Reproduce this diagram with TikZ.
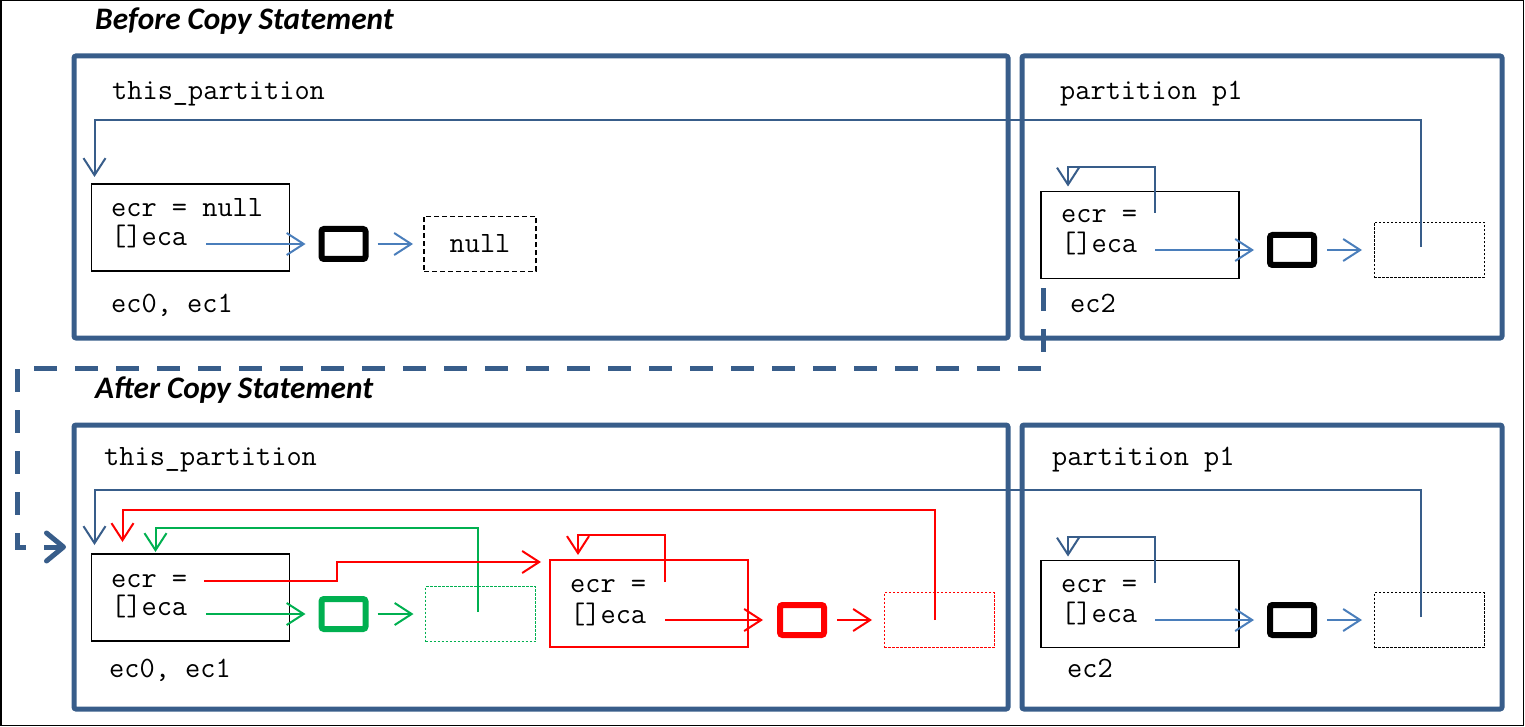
\documentclass[tikz,border=0pt]{standalone}
\usepackage{fontspec}
\newfontfamily\titlefont{Carlito}
\usetikzlibrary{arrows.meta,positioning}
\definecolor{frameblue}{RGB}{56,93,138}
\definecolor{ptrblue}{RGB}{74,126,187}
\definecolor{ecgreen}{RGB}{0,176,80}
\definecolor{ecred}{RGB}{255,0,0}
\tikzset{
  part/.style={draw=frameblue,line width=5pt,rounded corners=2pt,inner sep=0pt,outer sep=0pt},
  obj/.style={draw,line width=1.2pt,minimum width=198pt,minimum height=87pt,inner sep=0pt,outer sep=0pt},
  ref/.style={draw,line width=6pt,rounded corners=2.5pt,minimum width=44pt,minimum height=30pt,inner sep=0pt,outer sep=0pt},
  arr/.style={draw,line width=1pt,dash pattern=on 2.5pt off 1.5pt,minimum width=110pt,minimum height=55pt,inner sep=0pt,outer sep=0pt},
  nul/.style={arr,line width=1.8pt,dash pattern=on 5pt off 3pt,minimum width=112pt,font=\fontsize{29.5}{34}\ttfamily},
  code/.style={font=\fontsize{29.5}{34}\ttfamily,inner sep=0pt,anchor=base west},
  ttl/.style={font=\fontsize{31.3}{37}\titlefont\bfseries\itshape,inner sep=0pt,anchor=base west},
  ptr/.style={draw=#1,line width=2pt,-{Straight Barb[length=17pt,width=22pt]}},
  ptr/.default=ptrblue,
  copyline/.style={draw=frameblue,line width=5pt,dash pattern=on 23pt off 18pt,
    -{Straight Barb[round,length=17pt,width=28pt]}}
}
\begin{document}
\begin{tikzpicture}[x=1pt,y=-1pt]
  \useasboundingbox (0,0) rectangle (1525,727);
  \draw[line width=1.5pt] (0.75,0.75) rectangle (1523.5,725.5);
  \node[ttl] (tA) at (95,30) {Before Copy Statement};
  \node[ttl] (tB) at (95,398) {After Copy Statement};
  \node[part,minimum width=934pt,minimum height=282pt] (fTL) at (541,197) {};
  \node[part,minimum width=480pt,minimum height=282pt] (fTR) at (1262,197) {};
  \node[part,minimum width=934pt,minimum height=284pt] (fBL) at (541,567) {};
  \node[part,minimum width=480pt,minimum height=284pt] (fBR) at (1262,567) {};
  \node[code] (nTL) at (112,100) {this\_partition};
  \node[obj] (oTL) at (190.5,227.5) {};
  \node[code] (ecrTL) at (111,217) {ecr = null};
  \node[code] (ecaTL) at (111,246) {[]eca};
  \node[code] (ecTL) at (111,312) {ec0, ec1};
  \node[ref] (rTL) at (343.5,244) {};
  \node[nul] (aTL) at (480,244) {null};
  \coordinate (sTL) at (206,244);
  \draw[ptr,shorten >=16pt] (sTL) -- (rTL);
  \draw[ptr,shorten <=12pt,shorten >=11pt] (rTL) -- (aTL);
  \node[code] (nTR) at (1060,100) {partition p1};
  \node[obj] (oTR) at (1140,235) {};
  \node[code] (ecrTR) at (1061,223) {ecr =};
  \node[code] (ecaTR) at (1061,253) {[]eca};
  \node[code] (ecTR) at (1070,312) {ec2};
  \node[ref] (rTR) at (1292,250) {};
  \node[arr] (aTR) at (1429,250) {};
  \coordinate (sTR) at (1155,250);
  \coordinate (lTR) at (1155,213);
  \coordinate (pTR) at (1421,247);
  \draw[ptr,shorten >=16pt] (sTR) -- (rTR);
  \draw[ptr,shorten <=13pt,shorten >=12pt] (rTR) -- (aTR);
  \draw[ptr=frameblue,shorten >=5pt] (lTR) -- ++(0,-46) -| ([xshift=27pt]oTR.north west);
  \draw[ptr=frameblue,shorten >=7pt] (pTR) -- ++(0,-127) -| ([xshift=3pt]oTL.north west);
  \node[code] (nBL) at (104,465) {this\_partition};
  \node[obj] (oBL) at (190.5,597.5) {};
  \node[code] (ecrBL) at (111,587) {ecr =};
  \node[code] (ecaBL) at (111,615) {[]eca};
  \node[code] (ecBL) at (109,677) {ec0, ec1};
  \node[ref,draw=ecgreen] (rBL) at (343.5,614) {};
  \node[arr,draw=ecgreen] (aBL) at (480.5,614) {};
  \node[obj,draw=ecred] (oBM) at (649,603.5) {};
  \node[code] (ecrBM) at (570,592) {ecr =};
  \node[code] (ecaBM) at (570,623) {[]eca};
  \node[ref,draw=ecred] (rBM) at (802,620) {};
  \node[arr,draw=ecred] (aBM) at (939,620) {};
  \coordinate (sBL) at (206,614);
  \coordinate (gBL) at (478,612);
  \coordinate (xBL) at (204,581);
  \coordinate (lBM) at (665,582);
  \coordinate (sBM) at (665,620);
  \coordinate (pBM) at (935,620);
  \draw[ptr=ecgreen,shorten >=16pt] (sBL) -- (rBL);
  \draw[ptr=ecgreen,shorten <=12pt,shorten >=12pt] (rBL) -- (aBL);
  \draw[ptr=ecgreen,shorten >=2pt] (gBL) -- ++(0,-84) -| ([xshift=64pt]oBL.north west);
  \draw[ptr=ecred,shorten >=9pt] (xBL) -- ++(133,0) |- ([yshift=-2pt]oBM.north west);
  \draw[ptr=ecred,shorten >=5pt] (lBM) -- ++(0,-47) -| ([xshift=28pt]oBM.north west);
  \draw[ptr=ecred,shorten >=17pt] (sBM) -- (rBM);
  \draw[ptr=ecred,shorten <=13pt,shorten >=12pt] (rBM) -- (aBM);
  \draw[ptr=ecred,shorten >=12pt] (pBM) -- ++(0,-110) -| ([xshift=31pt]oBL.north west);
  \node[code] (nBR) at (1052,465) {partition p1};
  \node[obj] (oBR) at (1140,604) {};
  \node[code] (ecrBR) at (1061,592) {ecr =};
  \node[code] (ecaBR) at (1061,622) {[]eca};
  \node[code] (ecBR) at (1067,677) {ec2};
  \node[ref] (rBR) at (1292,620) {};
  \node[arr] (aBR) at (1429,620) {};
  \coordinate (sBR) at (1155,620);
  \coordinate (lBR) at (1155,583);
  \coordinate (pBR) at (1421,617);
  \draw[ptr,shorten >=16pt] (sBR) -- (rBR);
  \draw[ptr,shorten <=13pt,shorten >=12pt] (rBR) -- (aBR);
  \draw[ptr=frameblue,shorten >=4pt] (lBR) -- ++(0,-46) -| ([xshift=27pt]oBR.north west);
  \draw[ptr=frameblue,shorten >=9pt] (pBR) -- ++(0,-127) -| ([xshift=3pt]oBL.north west);
  \coordinate (cpS) at (1043,288);
  \draw[copyline,shorten >=8pt] (cpS) -- ++(0,80) -- ++(-1026,0) -- ++(0,179) -- ([yshift=20pt]fBL.west);
\end{tikzpicture}
\end{document}
